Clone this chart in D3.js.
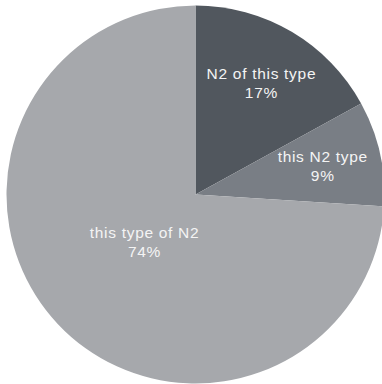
<!DOCTYPE html>
<html>
<head>
<meta charset="utf-8">
<script src="https://cdn.jsdelivr.net/npm/d3@7"></script>
<style>
  html, body { margin: 0; padding: 0; background: #ffffff; }
  svg { display: block; }
</style>
</head>
<body>
<svg id="chart" width="382" height="384"></svg>
<script>
// Data
const categories = ["N2 of this type", "this N2 type", "this type of N2"];
const values = [17, 9, 74];
const valueLabels = ["17%", "9%", "74%"];
const colors = ["#51575e", "#797e85", "#a6a8ac"];

// Layout
const cx = 195.5, cy = 194.5, radius = 189;
const labelRadiusFactor = [0.685, 0.69, 0.37];

const svg = d3.select("#chart");
const g = svg.append("g").attr("transform", `translate(${cx},${cy})`);

const pie = d3.pie().sort(null).value(d => d);
const arcs = pie(values);
const arc = d3.arc().innerRadius(0).outerRadius(radius);

g.selectAll("path.slice")
  .data(arcs)
  .join("path")
  .attr("class", "slice")
  .attr("d", arc)
  .attr("fill", (d, i) => colors[i]);

const labels = g.selectAll("g.label")
  .data(arcs)
  .join("g")
  .attr("class", "label")
  .attr("transform", (d, i) => {
    const r = radius * labelRadiusFactor[i];
    const la = d3.arc().innerRadius(r).outerRadius(r);
    const [x, y] = la.centroid(d);
    return `translate(${x},${y})`;
  });

const textStyle = sel => sel
  .attr("text-anchor", "middle")
  .attr("fill", "#f4f4f4")
  .attr("font-family", "'Liberation Sans', Arial, Helvetica, sans-serif")
  .attr("font-size", "15.5px")
  .attr("letter-spacing", "0.7px");

labels.append("text")
  .call(textStyle)
  .attr("y", -4.5)
  .text((d, i) => categories[i]);

labels.append("text")
  .call(textStyle)
  .attr("y", 14.5)
  .text((d, i) => valueLabels[i]);
</script>
</body>
</html>
